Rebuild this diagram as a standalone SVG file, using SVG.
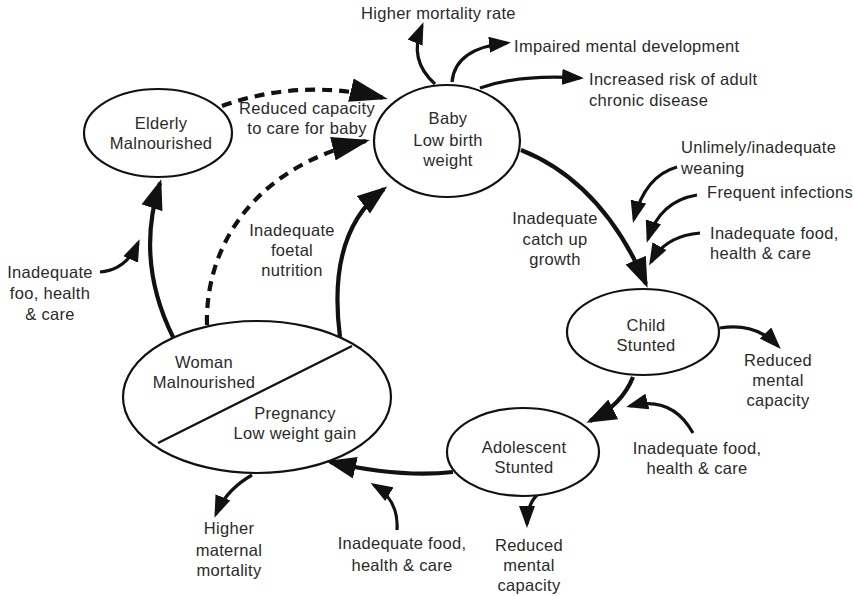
<svg xmlns="http://www.w3.org/2000/svg" width="853" height="596" viewBox="0 0 853 596">
<style>
.t{font-family:"Liberation Sans",Arial,sans-serif;font-size:16.5px;fill:#2a2a2a;letter-spacing:0.3px}
.m{text-anchor:middle}
.n{fill:#fff;stroke:#111;stroke-width:2.2}
.c{fill:none;stroke:#111}
.thick{stroke-width:4.2}
.med{stroke-width:3.2}
.dash{stroke-width:4.2;stroke-dasharray:10 7}
</style>
<defs>
<marker id="a" markerUnits="userSpaceOnUse" markerWidth="22" markerHeight="16" refX="18" refY="8" orient="auto"><path d="M0,0 L22,8 L0,16 z" fill="#111"/></marker>
<marker id="b" markerUnits="userSpaceOnUse" markerWidth="30" markerHeight="22" refX="26" refY="11" orient="auto"><path d="M0,0 L30,11 L0,22 z" fill="#111"/></marker>
<marker id="d" markerUnits="userSpaceOnUse" markerWidth="38" markerHeight="24" refX="34" refY="12" orient="auto"><path d="M0,0 L38,12 L0,24 z" fill="#111"/></marker>
</defs>

<g id="connectors">
<path class="c dash" d="M222,106 Q300,78 384,98" marker-end="url(#d)"/>
<path class="c dash" d="M207,325 C205,250 250,168 366,141" marker-end="url(#d)"/>
<path class="c thick" d="M173,337 Q135,260 160,183" marker-end="url(#b)"/>
<path class="c med" d="M100,272 Q126,270 138,243" marker-end="url(#a)"/>
<path class="c thick" d="M340,337 C330,260 350,215 384,189" marker-end="url(#b)"/>
<path class="c med" d="M435,84 Q408,60 422,26" marker-end="url(#a)"/>
<path class="c med" d="M452,82 Q455,48 507,43" marker-end="url(#a)"/>
<path class="c med" d="M480,88 Q520,74 580,78" marker-end="url(#a)"/>
<path class="c thick" d="M521,150 Q602,182 646,284" marker-end="url(#b)"/>
<path class="c med" d="M677,167 Q645,176 634,219" marker-end="url(#a)"/>
<path class="c med" d="M697,195 Q660,201 648,239" marker-end="url(#a)"/>
<path class="c med" d="M700,233 Q665,236 651,262" marker-end="url(#a)"/>
<path class="c med" d="M720,328 Q755,322 778,346" marker-end="url(#a)"/>
<path class="c thick" d="M633,377 Q622,405 590,421" marker-end="url(#b)"/>
<path class="c med" d="M693,433 Q672,395 630,406" marker-end="url(#a)"/>
<path class="c thick" d="M453,472 Q400,478 330,462" marker-end="url(#b)"/>
<path class="c med" d="M397,530 Q399,500 374,485" marker-end="url(#a)"/>
<path class="c med" d="M252,475 Q226,490 216,514" marker-end="url(#a)"/>
<path class="c med" d="M537,495 Q527,505 527,524" marker-end="url(#a)"/>
</g>

<g id="elderly">
<ellipse class="n" cx="158" cy="133" rx="74" ry="44"/>
<text class="t m" x="161" y="129">Elderly</text>
<text class="t m" x="161" y="149">Malnourished</text>
</g>

<g id="baby">
<ellipse class="n" cx="447" cy="141" rx="73" ry="56"/>
<text class="t m" x="448" y="124">Baby</text>
<text class="t m" x="448" y="146">Low birth</text>
<text class="t m" x="448" y="166">weight</text>
</g>

<g id="child">
<ellipse class="n" cx="643" cy="332" rx="76" ry="43"/>
<text class="t m" x="646" y="331">Child</text>
<text class="t m" x="646" y="351">Stunted</text>
</g>

<g id="adolescent">
<ellipse class="n" cx="523" cy="452" rx="76" ry="44"/>
<text class="t m" x="524" y="453">Adolescent</text>
<text class="t m" x="524" y="473">Stunted</text>
</g>

<g id="woman">
<ellipse class="n" cx="257" cy="397" rx="134" ry="76"/>
<line x1="158" y1="443" x2="352" y2="346" stroke="#111" stroke-width="2.2"/>
<text class="t m" x="204" y="368">Woman</text>
<text class="t m" x="204" y="388">Malnourished</text>
<text class="t m" x="295" y="419">Pregnancy</text>
<text class="t m" x="295" y="439">Low weight gain</text>
</g>

<g id="labels">
<text class="t" x="361" y="19">Higher mortality rate</text>
<text class="t" x="514" y="52">Impaired mental development</text>
<text class="t" x="589" y="85">Increased risk of adult</text>
<text class="t" x="589" y="106">chronic disease</text>
<text class="t m" x="307" y="114">Reduced capacity</text>
<text class="t m" x="307" y="134">to care for baby</text>
<text class="t" x="681" y="153">Unlimely/inadequate</text>
<text class="t" x="681" y="174">weaning</text>
<text class="t" x="707" y="198">Frequent infections</text>
<text class="t" x="710" y="239">Inadequate food,</text>
<text class="t" x="710" y="259">health &amp; care</text>
<text class="t m" x="555" y="224">Inadequate</text>
<text class="t m" x="555" y="245">catch up</text>
<text class="t m" x="555" y="265">growth</text>
<text class="t m" x="292" y="236">Inadequate</text>
<text class="t m" x="292" y="256">foetal</text>
<text class="t m" x="292" y="276">nutrition</text>
<text class="t m" x="50" y="278">Inadequate</text>
<text class="t m" x="50" y="299">foo, health</text>
<text class="t m" x="50" y="320">&amp; care</text>
<text class="t m" x="778" y="366">Reduced</text>
<text class="t m" x="778" y="386">mental</text>
<text class="t m" x="778" y="406">capacity</text>
<text class="t m" x="697" y="454">Inadequate food,</text>
<text class="t m" x="697" y="474">health &amp; care</text>
<text class="t m" x="529" y="551">Reduced</text>
<text class="t m" x="529" y="571">mental</text>
<text class="t m" x="529" y="591">capacity</text>
<text class="t m" x="402" y="549">Inadequate food,</text>
<text class="t m" x="402" y="571">health &amp; care</text>
<text class="t m" x="229" y="534">Higher</text>
<text class="t m" x="229" y="556">maternal</text>
<text class="t m" x="229" y="576">mortality</text>
</g>
</svg>
